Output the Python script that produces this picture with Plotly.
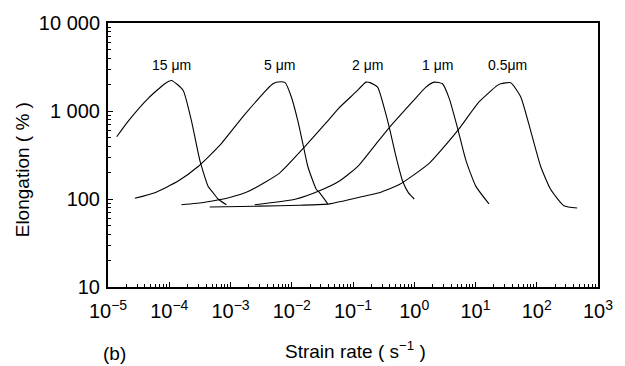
import math
import plotly.graph_objects as go

# Strain rate (s^-1) and elongation (%)
x_15 = [1.39e-5, 2.14e-5, 4.53e-5, 8.47e-5, 1.09e-4, 1.68e-4, 2.31e-4, 3.15e-4, 4.30e-4, 5.19e-4, 6.25e-4, 8.57e-4]
y_15 = [510, 767, 1393, 2042, 2222, 1722, 767, 277, 140, 118, 100, 86]

x_5 = [2.75e-5, 5.82e-5, 1.40e-4, 2.96e-4, 6.67e-4, 1.70e-3, 4.92e-3, 6.5e-3, 7.8e-3, 9.82e-3, 1.26e-2, 1.52e-2, 1.83e-2, 2.51e-2, 2.84e-2, 3.87e-2]
y_5 = [102, 118, 160, 234, 406, 910, 2042, 2150, 2100, 1452, 767, 424, 234, 129, 118, 88]

x_2 = [1.58e-4, 3.80e-4, 9.70e-4, 2.06e-3, 6.33e-3, 1.61e-2, 3.65e-2, 5.88e-2, 0.112, 0.163, 0.190, 0.252, 0.346, 0.392, 0.49, 0.645, 0.80, 1.0]
y_2 = [86, 92, 104, 124, 197, 389, 736, 1079, 1648, 2128, 2100, 1871, 910, 649, 328, 160, 118, 100]

x_1 = [2.48e-3, 1.18e-2, 2.84e-2, 6.01e-2, 0.12, 0.238, 0.392, 0.937, 1.55, 2.12, 2.89, 3.72, 5.07, 6.95, 10.1, 16.6]
y_1 = [86, 100, 124, 160, 235, 424, 649, 1277, 1871, 2128, 2042, 1393, 649, 277, 140, 88]

x_05 = [4.58e-4, 2.99e-3, 1.34e-2, 4.13e-2, 0.163, 0.269, 0.570, 1.75, 5.07, 11.5, 22.8, 25.8, 37.6, 54.7, 79.6, 116, 168, 277, 457]
y_05 = [81, 83, 85, 88, 109, 118, 146, 254, 594, 1277, 1953, 2042, 2096, 1452, 594, 234, 129, 84, 79]

series_x = [x_15, x_5, x_2, x_1, x_05]
series_y = [y_15, y_5, y_2, y_1, y_05]
labels = ["15 \u03bcm", "5 \u03bcm", "2 \u03bcm", "1 \u03bcm", "0.5\u03bcm"]
label_x = [1.09e-4, 6.3e-3, 0.174, 2.4, 33.0]
label_y = 3350

x_tickvals = [1e-5, 1e-4, 1e-3, 1e-2, 1e-1, 1e0, 1e1, 1e2, 1e3]
x_ticktext = ["10<sup>\u22125</sup>", "10<sup>\u22124</sup>", "10<sup>\u22123</sup>", "10<sup>\u22122</sup>",
              "10<sup>\u22121</sup>", "10<sup>0</sup>", "10<sup>1</sup>", "10<sup>2</sup>", "10<sup>3</sup>"]
y_tickvals = [10, 100, 1000, 10000]
y_ticktext = ["10", "100", "1 000", "10 000"]

FONT = "Liberation Sans, Arial, sans-serif"

fig = go.Figure()
for xs, ys in zip(series_x, series_y):
    fig.add_trace(go.Scatter(x=xs, y=ys, mode="lines",
                             line=dict(color="black", width=1.1, shape="spline", smoothing=0.5),
                             showlegend=False, hoverinfo="skip"))

for lx, lt in zip(label_x, labels):
    fig.add_annotation(x=math.log10(lx), y=math.log10(label_y), xref="x", yref="y",
                       text=lt, showarrow=False,
                       font=dict(family=FONT, size=14, color="black"))

fig.update_layout(
    width=625, height=366,
    margin=dict(l=108, r=26, t=16, b=79),
    paper_bgcolor="white", plot_bgcolor="white",
    font=dict(family=FONT, color="black"),
    showlegend=False,
)

minor_x = [m * 10 ** e for e in range(-5, 3) for m in range(2, 10)]
minor_y = [m * 10 ** e for e in range(1, 4) for m in range(2, 10)]

axis_common = dict(
    tickfont=dict(family=FONT, size=20, color="black"),
    ticks="inside", ticklen=5, tickwidth=1, tickcolor="black",
    showline=True, linecolor="black", linewidth=2, mirror=True,
    showgrid=False, zeroline=False,
)
fig.update_xaxes(type="log", range=[-5, 3], tickvals=x_tickvals, ticktext=x_ticktext,
                 ticklabelstandoff=5,
                 minor=dict(ticks="inside", ticklen=3, tickwidth=1, tickcolor="black",
                            showgrid=False, tickvals=minor_x),
                 **axis_common)
fig.update_yaxes(type="log", range=[1, 4], tickvals=y_tickvals, ticktext=y_ticktext,
                 ticklabelstandoff=2,
                 minor=dict(ticks="inside", ticklen=3, tickwidth=1, tickcolor="black",
                            showgrid=False, tickvals=minor_y),
                 **axis_common)

PW, PH = 599 - 108, 287 - 16
fig.add_annotation(xref="paper", yref="paper", x=(356 - 108) / PW, y=-(352 - 287) / PH,
                   text="Strain rate ( s<sup>\u22121</sup> )", showarrow=False,
                   xanchor="center", yanchor="middle",
                   font=dict(family=FONT, size=19, color="black"))
fig.add_annotation(xref="paper", yref="paper", x=(22 - 108) / PW, y=(287 - 167) / PH,
                   text="Elongation ( % )", showarrow=False, textangle=-90,
                   xanchor="center", yanchor="middle",
                   font=dict(family=FONT, size=19, color="black"))
fig.add_annotation(xref="paper", yref="paper", x=(115 - 108) / PW, y=-(355 - 287) / PH,
                   text="(b)", showarrow=False, xanchor="center", yanchor="middle",
                   font=dict(family=FONT, size=19, color="black"))

fig.write_html("out.html")
